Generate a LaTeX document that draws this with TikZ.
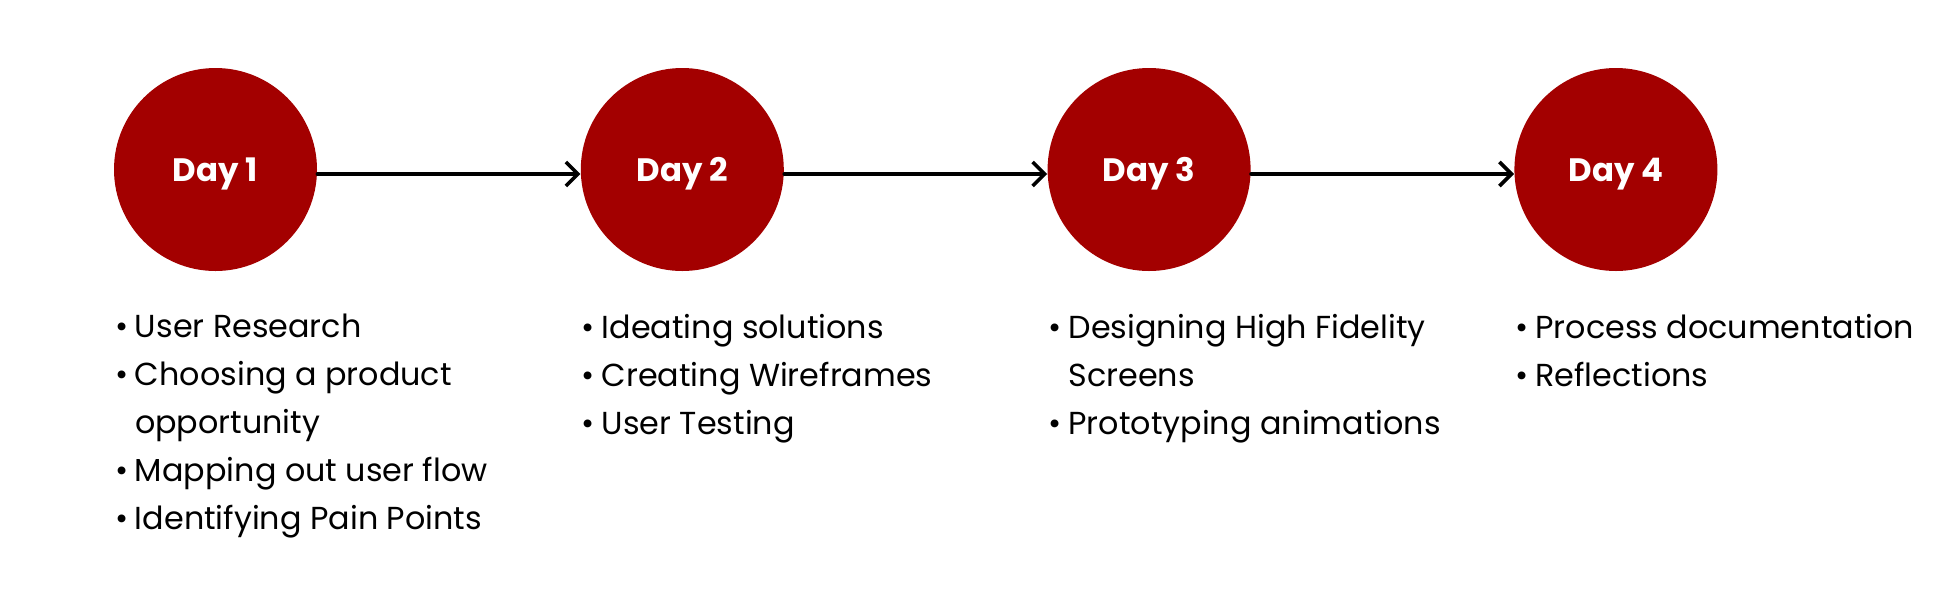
\documentclass[tikz,border=0pt]{standalone}
\usepackage{fontspec}
\setmainfont{Poppins}
\usetikzlibrary{positioning}
\usetikzlibrary{arrows.meta}
\definecolor{dayred}{RGB}{163,0,0}
\tikzset{
    daynode/.style = {circle, fill=dayred, minimum size=101.5pt, inner sep=0pt, text=white, text depth=0pt, font=\fontsize{16.2}{18}\selectfont\bfseries},
    tasks/.style = {anchor=north west, inner sep=0pt, align=left, font=\fontsize{15.9}{24}\selectfont},
    edgen/.style = {-{Straight Barb[length=6pt,width=12pt]}, line width=1.8pt, line cap=round, line join=round}
}
\newcommand{\itm}{\makebox[10pt][l]{•}}
\newcommand{\cnt}{\hspace*{10pt}}

\begin{document}
\begin{tikzpicture}[x=0.5pt,y=-0.5pt, node distance=131.5pt]

  \useasboundingbox (0,0) rectangle (1954,596);

  % days
  \node[daynode] (d1) at (215.5,169.5) {Day 1};
  \node[daynode, right=of d1] (d2) {Day 2};
  \node[daynode, right=of d2] (d3) {Day 3};
  \node[daynode, right=of d3] (d4) {Day 4};

  % arrows
  \draw[edgen] ([yshift=-2.25pt]d1.east) -- ([yshift=-2.25pt]d2.west);
  \draw[edgen] ([yshift=-2.25pt]d2.east) -- ([yshift=-2.25pt]d3.west);
  \draw[edgen] ([yshift=-2.25pt]d3.east) -- ([yshift=-2.25pt]d4.west);

  % task lists
  \node[tasks] (t1) at ([xshift=0.5pt,yshift=-21.3pt]d1.west |- d1.south) {%
    \itm User Research\\
    \itm Choosing a product\\
    \cnt opportunity\\
    \itm Mapping out user flow\\
    \itm Identifying Pain Points};
  \node[tasks] (t2) at ([xshift=0.5pt,yshift=-21.3pt]d2.west |- d2.south) {%
    \itm Ideating solutions\\
    \itm Creating Wireframes\\
    \itm User Testing};
  \node[tasks] (t3) at ([xshift=0.5pt,yshift=-21.3pt]d3.west |- d3.south) {%
    \itm Designing High Fidelity\\
    \cnt Screens\\
    \itm Prototyping animations};
  \node[tasks] (t4) at ([xshift=0.5pt,yshift=-21.3pt]d4.west |- d4.south) {%
    \itm Process documentation\\
    \itm Reflections};

\end{tikzpicture}
\end{document}
